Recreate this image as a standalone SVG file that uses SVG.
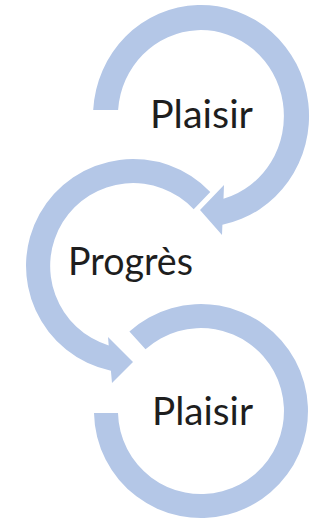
<svg xmlns="http://www.w3.org/2000/svg" width="327" height="520" viewBox="0 0 327 520">
<style>
.ring{fill:#b4c7e7;stroke:none}
.lbl{font-family:Lato,"Open Sans","Liberation Sans",sans-serif;font-size:39px;fill:#1e1e1e;text-anchor:middle}
</style>
<rect width="327" height="520" fill="#ffffff"/>
<g id="connectors">
<path id="ring-top" class="ring" d="M93.2,110 A108,111 0 1 1 222.4,224.8 L222,235 L200,210 L224,185 L223.5,198.8 A83,86 0 1 0 118.1,110 Z"/>
<path id="ring-middle" class="ring" d="M210.3,192 A107,107 0 1 0 110.9,370.7 L112,383 L133,362 L108,337 L108.7,345.4 A83,83 0 1 1 193.7,209.3 Z"/>
<path id="ring-bottom" class="ring" d="M129.4,331.5 A107,107 0 1 1 94,413 L118,413 A83,83 0 1 0 145.5,349.3 Z"/>
</g>
<g id="node-plaisir-top">
<text class="lbl" x="201.5" y="128" textLength="103" lengthAdjust="spacingAndGlyphs">Plaisir</text>
</g>
<g id="node-progres">
<text class="lbl" x="130.5" y="275" textLength="125" lengthAdjust="spacingAndGlyphs">Progrès</text>
</g>
<g id="node-plaisir-bottom">
<text class="lbl" x="202.5" y="425" textLength="101" lengthAdjust="spacingAndGlyphs">Plaisir</text>
</g>
</svg>
